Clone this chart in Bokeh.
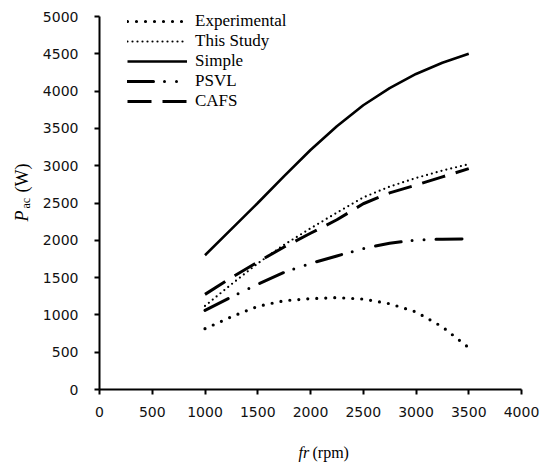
from bokeh.plotting import figure
from bokeh.models import Range1d, Label, Legend, LegendItem, FixedTicker
from bokeh.embed import file_html
from bokeh.resources import INLINE
import math

# rotor speed (rpm) and AC power (W) for each model
fr = [1000, 1250, 1500, 1750, 2000, 2250, 2500, 2750, 3000, 3250, 3500]
experimental = [815, 975, 1115, 1190, 1218, 1232, 1212, 1150, 1040, 840, 560]
this_study = [1120, 1410, 1690, 1940, 2160, 2370, 2575, 2720, 2835, 2935, 3020]
simple = [1800, 2150, 2500, 2860, 3210, 3530, 3810, 4040, 4230, 4380, 4500]
psvl = [1060, 1240, 1410, 1570, 1690, 1790, 1890, 1960, 2005, 2015, 2020]
cafs = [1275, 1500, 1710, 1910, 2095, 2275, 2490, 2635, 2740, 2850, 2960]

x_ticks = [0, 500, 1000, 1500, 2000, 2500, 3000, 3500, 4000]
y_ticks = [0, 500, 1000, 1500, 2000, 2500, 3000, 3500, 4000, 4500, 5000]

SERIF = "Liberation Serif"
SANS = "DejaVu Sans"

W, H = 542, 464
# pixel placement of the axes box inside the canvas
X0_PX, X1_PX = 99, 521
Y0_PX, Y1_PX = 389, 16
kx = (X1_PX - X0_PX) / 4000.0
ky = (Y0_PX - Y1_PX) / 5000.0


def sx(px):
    return (px - X0_PX) / kx


def sy(py):
    return (Y0_PX - py) / ky


# the plotting frame spans the whole canvas; axes sit at data zero
p = figure(width=W, height=H, output_backend="svg", toolbar_location=None,
           x_range=Range1d(sx(0), sx(W)), y_range=Range1d(sy(H), sy(0)),
           min_border=0)
p.outline_line_color = None
p.grid.visible = False
p.background_fill_color = "white"
p.border_fill_color = "white"

xa, ya = p.xaxis[0], p.yaxis[0]
xa.fixed_location = 0
ya.fixed_location = 0
xa.bounds = (0, 4000)
ya.bounds = (0, 5000)
xa.ticker = FixedTicker(ticks=x_ticks)
ya.ticker = FixedTicker(ticks=y_ticks)
for ax in (xa, ya):
    ax.axis_line_width = 2
    ax.axis_line_color = "black"
    ax.major_tick_line_color = "black"
    ax.major_tick_line_width = 2
    ax.major_tick_out = 5
    ax.major_tick_in = 0
    ax.minor_tick_line_color = None
    ax.major_label_text_font = SANS
    ax.major_label_text_font_size = "14px"
    ax.major_label_text_color = "#111111"
xa.major_label_standoff = 12
ya.major_label_standoff = 16

r_exp = p.line(fr, experimental, line_color="black", line_width=3.2,
               line_dash="0 9", line_cap="round")
r_ts = p.line(fr, this_study, line_color="black", line_width=2.2,
              line_dash="0 5", line_cap="round")
r_simple = p.line(fr, simple, line_color="black", line_width=2.6)
r_psvl = p.line(fr, psvl, line_color="black", line_width=3,
                line_dash="26 11 0 12 0 12", line_cap="round")
r_cafs = p.line(fr, cafs, line_color="black", line_width=3,
                line_dash="24 11")

legend = Legend(items=[
    LegendItem(label="Experimental", renderers=[r_exp]),
    LegendItem(label="This Study", renderers=[r_ts]),
    LegendItem(label="Simple", renderers=[r_simple]),
    LegendItem(label="PSVL", renderers=[r_psvl]),
    LegendItem(label="CAFS", renderers=[r_cafs]),
], location=(127, 353))
legend.border_line_color = None
legend.background_fill_alpha = 0
legend.label_text_font = SERIF
legend.label_text_font_size = "17px"
legend.label_text_color = "black"
legend.glyph_width = 60
legend.glyph_height = 20
legend.label_height = 20
legend.spacing = 0
legend.padding = 0
legend.margin = 0
legend.label_standoff = 8
p.add_layout(legend)

# x-axis title: italic symbol followed by unit
p.add_layout(Label(x=sx(298), y=sy(452), text="fr", text_font=SERIF,
                   text_font_style="italic", text_font_size="16px",
                   text_color="black",
                   text_baseline="middle", text_align="left"))
p.add_layout(Label(x=sx(312), y=sy(452), text="(rpm)", text_font=SERIF,
                   text_font_size="16px", text_color="black",
                   text_baseline="middle", text_align="left"))

# y-axis title: P with subscript "ac", then unit, reading upwards
ang = math.pi / 2
p.add_layout(Label(x=sx(21), y=sy(221), text="P", text_font=SERIF,
                   text_font_style="italic", text_font_size="18px",
                   text_color="black",
                   text_baseline="middle", text_align="left", angle=ang))
p.add_layout(Label(x=sx(25), y=sy(208), text="ac", text_font=SERIF,
                   text_font_size="12px", text_color="black",
                   text_baseline="middle", text_align="left", angle=ang))
p.add_layout(Label(x=sx(21), y=sy(192), text="(W)", text_font=SERIF,
                   text_font_size="18px", text_color="black",
                   text_baseline="middle", text_align="left", angle=ang))

open("out.html", "w").write(file_html(p, INLINE))
